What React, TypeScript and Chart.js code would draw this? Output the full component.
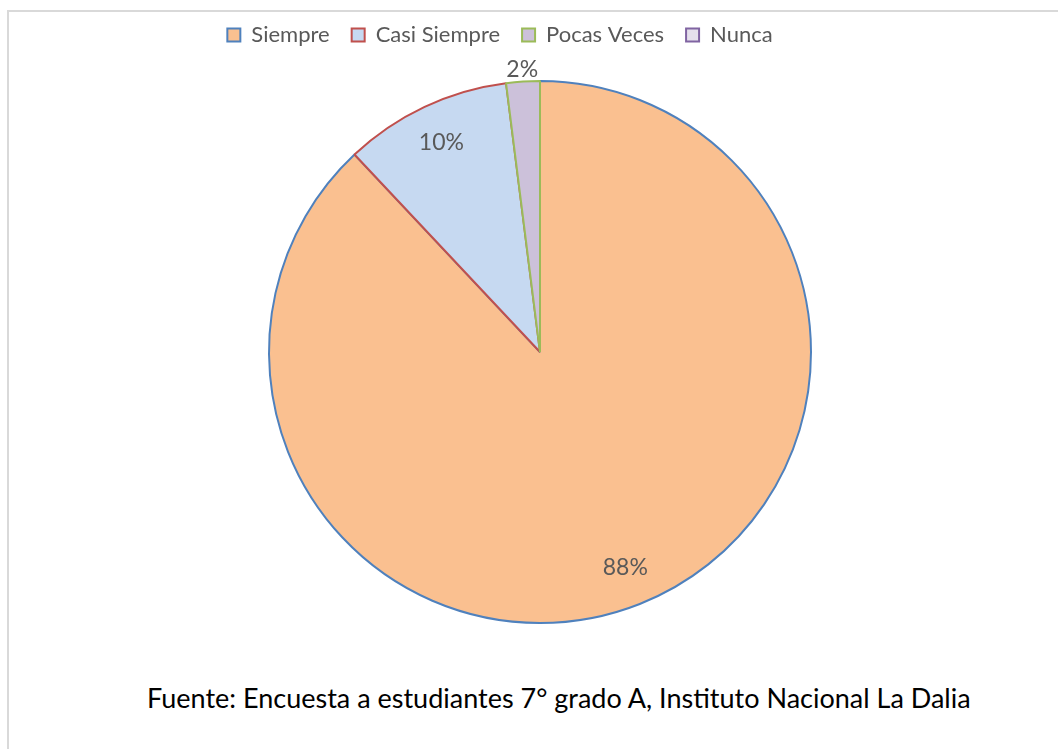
import React, { useEffect, useRef } from "react";
import { Chart, registerables } from "chart.js";

Chart.register(...registerables);

const categories = ["Siempre", "Casi Siempre", "Pocas Veces", "Nunca"];
const percentages = [88, 10, 2, 0];
const fillColors = ["#FAC090", "#C6D9F1", "#CCC1DA", "#E5E0EC"];
const borderColors = ["#4F81BD", "#C0504D", "#9BBB59", "#8064A2"];
const sourceText = "Fuente: Encuesta a estudiantes 7° grado A, Instituto Nacional La Dalia";

const FONT = "Lato, 'Open Sans', sans-serif";

const legendSpacer = {
  id: "legendSpacer",
  beforeInit(chart: any) {
    const legend = chart.legend;
    if (!legend) return;
    const origFit = legend.fit;
    legend.fit = function () {
      origFit.call(this);
      this.height += 24;
    };
  },
  afterLayout(chart: any) {
    const legend = chart.legend;
    if (legend) {
      legend.left -= 80;
    }
  },
};

const pieLabels = {
  id: "pieLabels",
  afterDatasetsDraw(chart: any) {
    const { ctx } = chart;
    const meta = chart.getDatasetMeta(0);
    const data = chart.data.datasets[0].data as number[];
    ctx.save();
    ctx.font = `23px ${FONT}`;
    ctx.fillStyle = "#595959";
    ctx.textAlign = "center";
    ctx.textBaseline = "middle";
    meta.data.forEach((arc: any, i: number) => {
      const v = data[i];
      if (!v) return;
      const { x, y, startAngle, endAngle, outerRadius } = arc.getProps(
        ["x", "y", "startAngle", "endAngle", "outerRadius"],
        true
      );
      const mid = (startAngle + endAngle) / 2;
      const d = v >= 5 ? outerRadius * 0.855 : outerRadius + 12;
      ctx.fillText(`${v}%`, x + Math.cos(mid) * d, y + Math.sin(mid) * d);
    });
    ctx.restore();
  },
};

export default function App() {
  const canvasRef = useRef<HTMLCanvasElement | null>(null);

  useEffect(() => {
    if (!canvasRef.current) return;
    const chart = new Chart(canvasRef.current, {
      type: "pie",
      data: {
        labels: categories,
        datasets: [
          {
            data: percentages,
            backgroundColor: fillColors,
            borderColor: borderColors,
            borderWidth: 2,
          },
        ],
      },
      options: {
        animation: false,
        responsive: false,
        maintainAspectRatio: false,
        layout: { padding: { top: 2, left: 22, right: 0, bottom: 36 } },
        plugins: {
          legend: {
            display: true,
            position: "top",
            labels: {
              boxWidth: 13,
              boxHeight: 13,
              padding: 22,
              color: "#595959",
              font: { family: FONT, size: 22 },
            },
          },
          tooltip: { enabled: false },
        },
      },
      plugins: [legendSpacer, pieLabels],
    });
    return () => chart.destroy();
  }, []);

  return (
    <div
      style={{
        position: "absolute",
        left: 0,
        top: 0,
        width: 1058,
        height: 749,
        overflow: "hidden",
        background: "#ffffff",
      }}
    >
      <div
        style={{
          position: "absolute",
          left: 7,
          top: 10,
          width: 1200,
          height: 900,
          borderLeft: "2px solid #d9d9d9",
          borderTop: "2px solid #d9d9d9",
        }}
      />
      <canvas
        ref={canvasRef}
        width={1058}
        height={660}
        style={{ position: "absolute", left: 0, top: 0, width: 1058, height: 660 }}
      />
      <div
        style={{
          position: "absolute",
          left: 147,
          top: 681,
          height: 32,
          overflow: "hidden",
          whiteSpace: "nowrap",
          fontFamily: FONT,
          fontSize: 27,
          lineHeight: "34px",
          color: "#000000",
        }}
      >
        {sourceText}
      </div>
    </div>
  );
}
